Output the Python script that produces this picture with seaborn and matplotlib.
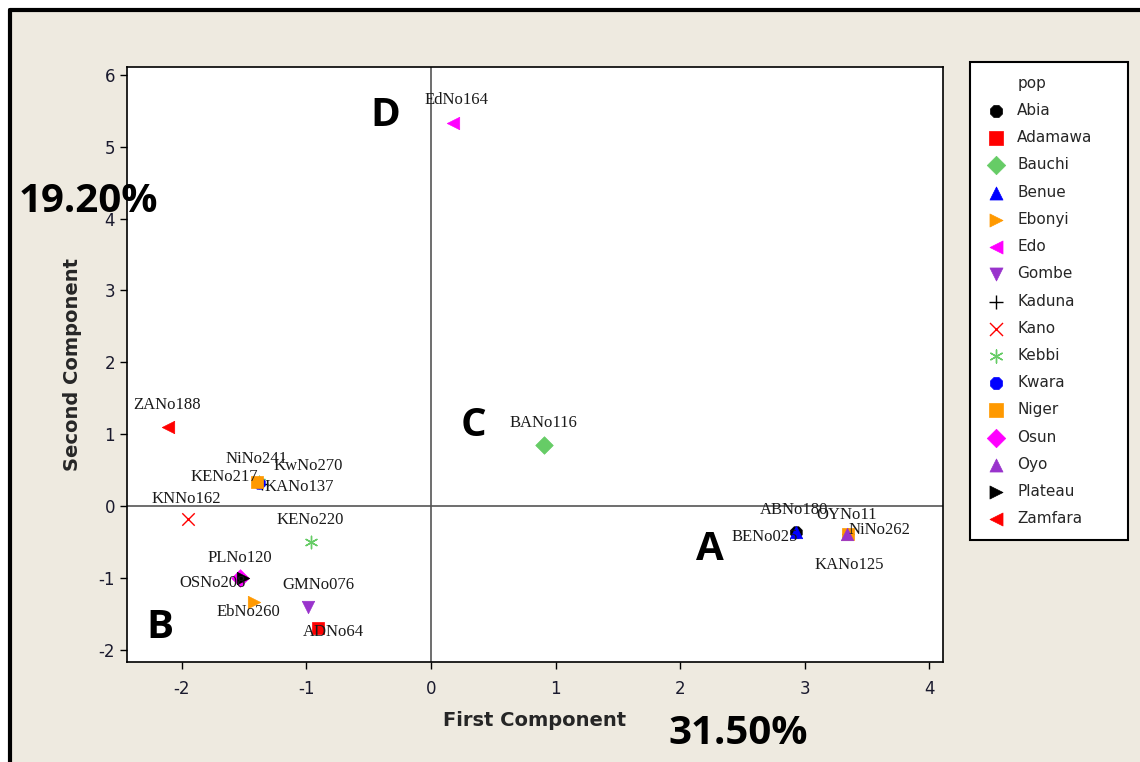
import matplotlib
matplotlib.use("Agg")
import matplotlib.pyplot as plt
import seaborn as sns
import pandas as pd
from matplotlib.patches import Rectangle
from matplotlib.lines import Line2D

# --- datos ---
ids = ["EdNo164", "BANo116", "ZANo188", "NiNo241", "KENo217", "KwNo270", "KANo137",
       "KNNo162", "KENo220", "PLNo120", "OSNo208", "EbNo260", "GMNo076", "ADNo64",
       "ABNo180", "BENo025", "OYNo11", "NiNo262", "KANo125"]
pops = ["Edo", "Bauchi", "Zamfara", "Niger", "Kebbi", "Kwara", "Kaduna",
        "Kano", "Kebbi", "Plateau", "Osun", "Ebonyi", "Gombe", "Adamawa",
        "Abia", "Benue", "Oyo", "Niger", "Kaduna"]
pc1 = [0.18, 0.91, -2.11, -1.40, -1.38, -1.38, -1.36,
       -1.95, -0.96, -1.51, -1.53, -1.42, -0.99, -0.91,
       2.93, 2.93, 3.34, 3.35, 3.35]
pc2 = [5.33, 0.85, 1.10, 0.33, 0.33, 0.32, 0.31,
       -0.18, -0.50, -1.00, -1.00, -1.34, -1.41, -1.70,
       -0.36, -0.36, -0.39, -0.39, -0.39]

states = ["Abia", "Adamawa", "Bauchi", "Benue", "Ebonyi", "Edo", "Gombe", "Kaduna",
          "Kano", "Kebbi", "Kwara", "Niger", "Osun", "Oyo", "Plateau", "Zamfara"]

# estilo de cada grupo (como Minitab)
colors = ["black", "#FF0000", "#66CC66", "#0000FF", "#FF9900", "#FF00FF", "#9933CC", "black",
          "#FF0000", "#66CC66", "#0000FF", "#FF9900", "#FF00FF", "#9933CC", "black", "#FF0000"]
markers = ["8", "s", "D", "^", ">", "<", "v", "+",
           "x", (6, 2, 0), "8", "s", "D", "^", ">", "<"]

# desplazamiento de las etiquetas (px respecto al punto)
label_dx = [3, -1, -1, 0, -35, 49, 38, -2, -1, -3, -28, -6, 11, 16, -2, -31, 0, 31, 1]
label_dy = [-23, -22, -22, -23, -5, -17, 3, -20, -22, -20, 5, 10, -22, 4, -22, 5, -19, -4, 31]

df = pd.DataFrame({"id": ids, "pop": pops, "x": pc1, "y": pc2})

sns.set_style("ticks")
plt.rcParams["font.family"] = ["DejaVu Sans"]

W, H = 1140, 762
fig = plt.figure(figsize=(W / 100, H / 100), dpi=100)
fig.patch.set_facecolor("white")
fig.patches.append(Rectangle((10 / W, 0), 1, 1 - 10 / H, transform=fig.transFigure,
                             facecolor="#EEEAE0", edgecolor="none", zorder=-10))
fig.lines.append(Line2D([10 / W, 10 / W], [0, 1 - 10 / H], transform=fig.transFigure,
                        color="black", lw=3))
fig.lines.append(Line2D([10 / W, 1], [1 - 10 / H, 1 - 10 / H], transform=fig.transFigure,
                        color="black", lw=3))

ax = fig.add_axes([127 / W, 1 - 662 / H, (943 - 127) / W, (662 - 67) / H])
ax.set_facecolor("white")

ax.axvline(0, color="#555555", lw=1.2, zorder=1)
ax.axhline(0, color="#555555", lw=1.2, zorder=1)

for st, c, m in zip(states, colors, markers):
    sub = df[df["pop"] == st]
    filled = m not in ["+", "x", (6, 2, 0)]
    if filled:
        sns.scatterplot(data=sub, x="x", y="y", color=c, marker=m, s=80,
                        edgecolor=c, linewidth=0.5, ax=ax, label=st, zorder=3)
    else:
        sns.scatterplot(data=sub, x="x", y="y", color=c, marker=m, s=80,
                        linewidth=1.0, ax=ax, label=st, zorder=3)

# etiquetas de los puntos
for i in range(len(df)):
    ax.annotate(df["id"][i], (df["x"][i], df["y"][i]),
                xytext=(label_dx[i] * 0.72, -label_dy[i] * 0.72), textcoords="offset points",
                ha="center", va="center", fontsize=12, family="Liberation Serif",
                color="#1a1a1a", zorder=4)

ax.set_xlim(-2.44, 4.11)
ax.set_ylim(-2.17, 6.11)
ax.set_xticks(range(-2, 5))
ax.set_yticks(range(-2, 7))
ax.set_xticklabels([str(v) for v in range(-2, 5)])
ax.set_yticklabels([str(v) for v in range(-2, 7)])
ax.tick_params(labelsize=12, length=5, width=1, colors="black", labelcolor="#1a1a2e")
ax.tick_params(axis="x", pad=8)
for sp in ax.spines.values():
    sp.set_color("black")
    sp.set_linewidth(1.2)
ax.set_xlabel("First Component", fontsize=14, fontweight="bold", labelpad=9)
ax.set_ylabel("Second Component", fontsize=14, fontweight="bold", labelpad=12)

# leyenda con "pop" como primera fila
handles, labels = ax.get_legend_handles_labels()
blank = Line2D([], [], linestyle="none", marker=None)
leg = ax.legend([blank] + handles, ["pop"] + labels,
                bbox_to_anchor=(970 / W, 1 - 540 / H, 158 / W, 478 / H),
                bbox_transform=fig.transFigure, loc="upper left", mode="expand",
                borderaxespad=0, fontsize=11, labelspacing=0.8, handletextpad=0.6,
                handlelength=1.6, borderpad=0.9, frameon=True, fancybox=False,
                framealpha=1, markerscale=1.05)
leg.get_frame().set_edgecolor("black")
leg.get_frame().set_linewidth(1.5)

# anotaciones grandes
big = dict(fontsize=29, family="Open Sans", fontweight="bold", color="black",
           ha="center", va="center")
fig.text(385 / W, 1 - 115 / H, "D", **big)
fig.text(473 / W, 1 - 425 / H, "C", **big)
fig.text(160 / W, 1 - 628 / H, "B", **big)
fig.text(710 / W, 1 - 550 / H, "A", **big)
fig.text(88 / W, 1 - 202 / H, "19.20%", **big)
fig.text(738 / W, 1 - 733 / H, "31.50%", **big)

plt.savefig("out.png", dpi=100)
plt.close()
